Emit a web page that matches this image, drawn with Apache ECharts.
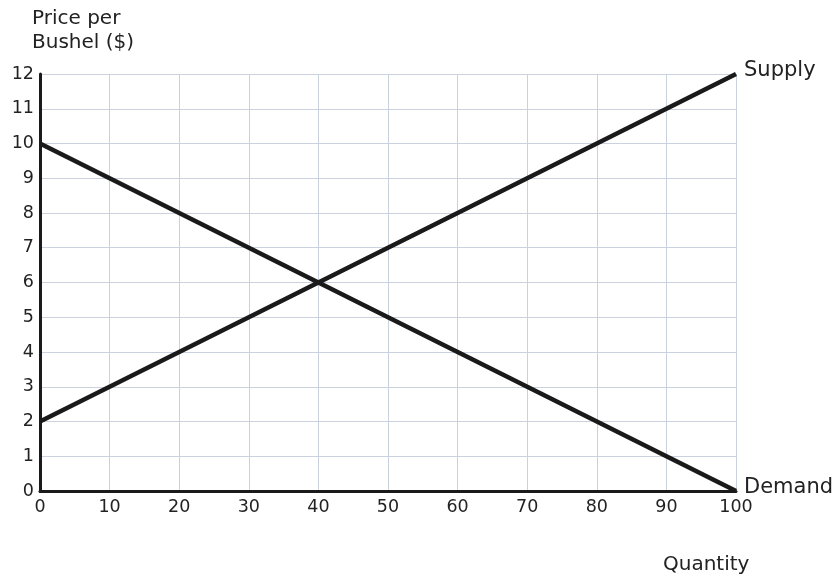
<!DOCTYPE html>
<html><head><meta charset="utf-8">
<script src="https://cdn.jsdelivr.net/npm/echarts@6/dist/echarts.min.js"></script>
<style>html,body{margin:0;padding:0;background:#fff}#c{width:835px;height:577px}</style>
</head><body><div id="c"></div>
<script>
const quantities = [0, 100];
const supplyPrices = [2, 12];
const demandPrices = [10, 0];
const xTicks = [0,10,20,30,40,50,60,70,80,90,100];
const yTicks = [0,1,2,3,4,5,6,7,8,9,10,11,12];
const seriesNames = ['Supply', 'Demand'];
const xName = 'Quantity';
const yName = 'Price per\nBushel ($)';

const font = 'DejaVu Sans';
const chart = echarts.init(document.getElementById('c'));
const mk = (name, ys) => ({
  type: 'line', name, data: quantities.map((q, i) => [q, ys[i]]),
  symbol: 'none', lineStyle: { color: '#1a1a1a', width: 4.5 },
  endLabel: { show: true, formatter: '{a}', fontFamily: font, fontSize: 21, color: '#222', distance: 8, offset: [0, -3] },
  z: 5
});
chart.setOption({
  animation: false,
  grid: { left: 40, right: 99, top: 74, bottom: 86 },
  xAxis: {
    type: 'value', min: 0, max: 100, interval: 10,
    axisLine: { show: true, lineStyle: { color: '#1a1a1a', width: 3 } },
    axisTick: { show: false },
    axisLabel: { fontFamily: font, fontSize: 17.5, color: '#222', margin: 7 },
    splitLine: { show: true, lineStyle: { color: '#c9d2dd', width: 1 } }
  },
  yAxis: {
    type: 'value', min: 0, max: 12, interval: 1,
    axisLine: { show: true, lineStyle: { color: '#1a1a1a', width: 3 } },
    axisTick: { show: false },
    axisLabel: { fontFamily: font, fontSize: 17.5, color: '#222', margin: 6 },
    splitLine: { show: true, lineStyle: { color: '#c9d2dd', width: 1 } }
  },
  graphic: [
    { type: 'text', left: 32, top: 7, style: { text: yName, fontFamily: font, fontSize: 20, fill: '#222', lineHeight: 24 } },
    { type: 'text', left: 663, top: 555, style: { text: xName, fontFamily: font, fontSize: 20, fill: '#222' } }
  ],
  series: [mk(seriesNames[0], supplyPrices), mk(seriesNames[1], demandPrices)]
});
</script></body></html>
